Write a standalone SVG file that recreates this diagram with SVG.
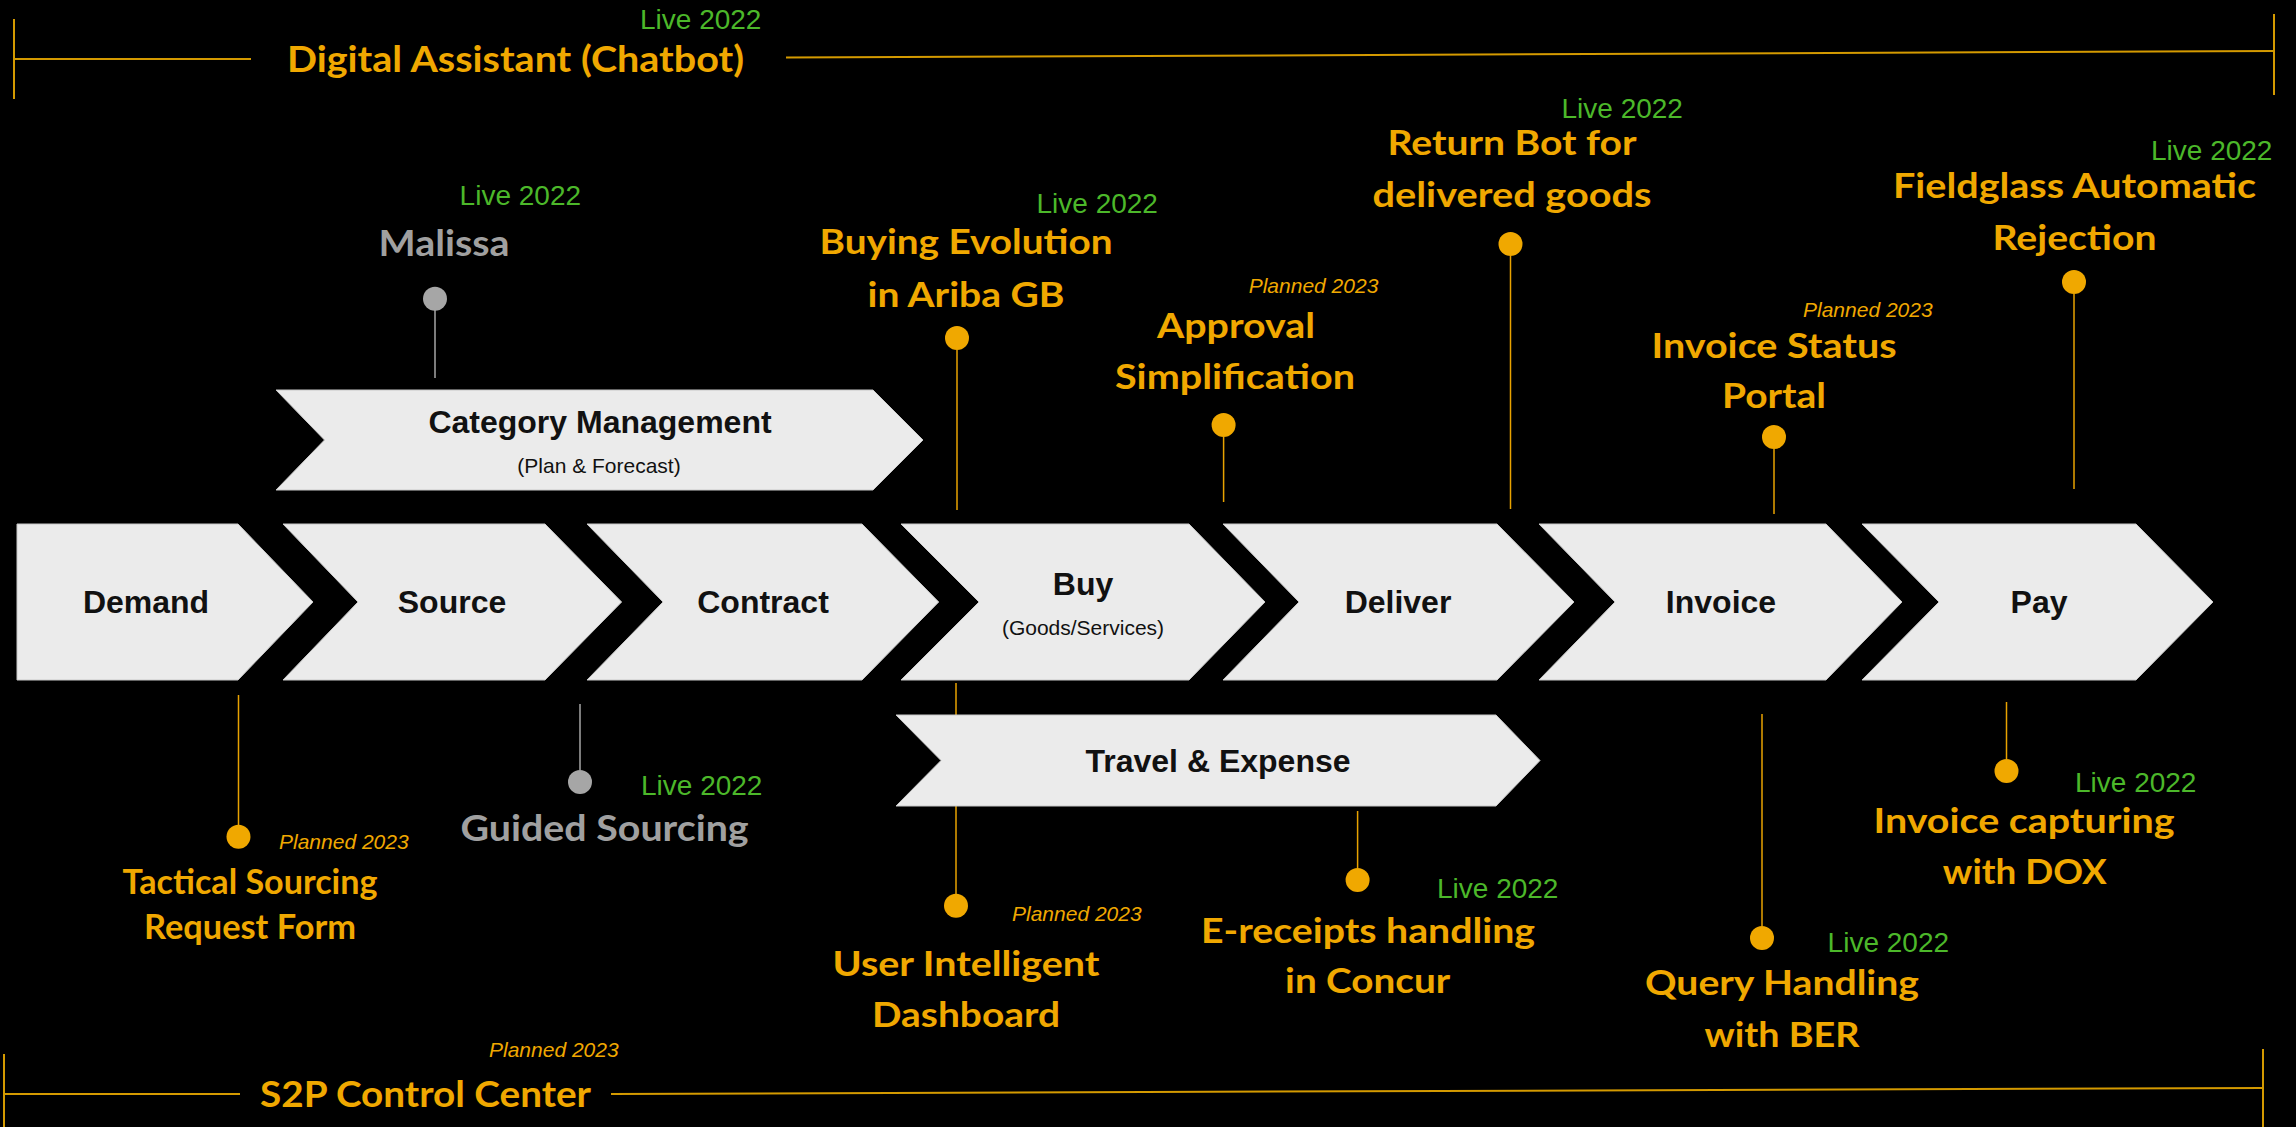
<svg xmlns="http://www.w3.org/2000/svg" width="2296" height="1127" viewBox="0 0 2296 1127">
<style>
.chev{fill:#EBEBEB;stroke:#C8C8C8;stroke-width:1}
.lbl{font-family:"Liberation Sans",Arial,sans-serif;font-weight:bold;font-size:32px;fill:#111;text-anchor:middle}
.sub{font-family:"Liberation Sans",Arial,sans-serif;font-size:21px;fill:#111;text-anchor:middle}
.ms{font-family:Lato,"Open Sans",sans-serif;font-weight:bold;font-size:35px;fill:#F0A800;text-anchor:middle}
.gr{font-family:Lato,"Open Sans",sans-serif;font-weight:bold;font-size:37px;fill:#A0A0A0;text-anchor:middle}
.hd{font-family:Lato,"Open Sans",sans-serif;font-weight:bold;font-size:36px;fill:#F0A800}
.live{font-family:"Liberation Sans",Arial,sans-serif;font-size:28px;fill:#4CB82A}
.plan{font-family:"Liberation Sans",Arial,sans-serif;font-size:21px;font-style:italic;fill:#F0A800}
.ln{stroke:#E8A200;stroke-width:1.5;fill:none}
.lg{stroke:#A6A6A6;stroke-width:1.5;fill:none}
.br{stroke:#D49A00;stroke-width:2;fill:none}
.dot{fill:#F0A800}
.dg{fill:#A6A6A6}
</style>
<rect x="0" y="0" width="2296" height="1127" fill="#000"/>

<g id="connectors">
<line class="lg" x1="435" y1="310" x2="435" y2="378"/>
<line class="ln" x1="957" y1="350" x2="957" y2="510"/>
<line class="ln" x1="1223.6" y1="437" x2="1223.6" y2="502"/>
<line class="ln" x1="1510.5" y1="256" x2="1510.5" y2="509"/>
<line class="ln" x1="1774" y1="449" x2="1774" y2="514"/>
<line class="ln" x1="2074" y1="294" x2="2074" y2="489"/>
<line class="ln" x1="238.5" y1="695" x2="238.5" y2="825"/>
<line class="lg" x1="580" y1="704" x2="580" y2="770"/>
<line class="ln" x1="956" y1="683" x2="956" y2="894"/>
<line class="ln" x1="1357.6" y1="811" x2="1357.6" y2="868"/>
<line class="ln" x1="1762" y1="714" x2="1762" y2="926"/>
<line class="ln" x1="2006.5" y1="702" x2="2006.5" y2="759"/>
</g>

<g id="bracket-top">
<line class="br" x1="14" y1="19" x2="14" y2="99"/>
<line class="br" x1="14" y1="59" x2="251" y2="59"/>
<line class="br" x1="786" y1="57.5" x2="2274" y2="51"/>
<line class="br" x1="2274" y1="14" x2="2274" y2="95"/>
<text class="hd" x="287" y="72" textLength="457" lengthAdjust="spacingAndGlyphs">Digital Assistant (Chatbot)</text>
<text class="live" x="640" y="29">Live 2022</text>
</g>

<g id="bracket-bottom">
<line class="br" x1="4" y1="1054" x2="4" y2="1127"/>
<line class="br" x1="4" y1="1094" x2="240" y2="1094"/>
<line class="br" x1="611" y1="1094" x2="2263" y2="1088"/>
<line class="br" x1="2263" y1="1049" x2="2263" y2="1127"/>
<text class="hd" x="260" y="1107" textLength="331" lengthAdjust="spacingAndGlyphs">S2P Control Center</text>
<text class="plan" x="489" y="1056.7">Planned 2023</text>
</g>

<g id="category-management">
<polygon class="chev" points="276,390 873,390 923,440 873,490 276,490 324.5,440"/>
<text class="lbl" x="600" y="432.7">Category Management</text>
<text class="sub" x="599" y="473">(Plan &amp; Forecast)</text>
</g>

<g id="demand">
<polygon class="chev" points="17,524 238,524 313,602 238,680 17,680"/>
<text class="lbl" x="146" y="613">Demand</text>
</g>
<g id="source">
<polygon class="chev" points="283,524 545,524 621.6,602 545,680 283,680 358,602"/>
<text class="lbl" x="452" y="613">Source</text>
</g>
<g id="contract">
<polygon class="chev" points="587,524 862,524 938.7,602 862,680 587,680 663,602"/>
<text class="lbl" x="763" y="613">Contract</text>
</g>
<g id="buy">
<polygon class="chev" points="901,524 1189,524 1265,602 1189,680 901,680 979,602"/>
<text class="lbl" x="1083" y="595">Buy</text>
<text class="sub" x="1083" y="635">(Goods/Services)</text>
</g>
<g id="deliver">
<polygon class="chev" points="1223,524 1497,524 1574,602 1497,680 1223,680 1299,602"/>
<text class="lbl" x="1398" y="613">Deliver</text>
</g>
<g id="invoice">
<polygon class="chev" points="1539,524 1826,524 1902,602 1826,680 1539,680 1615,602"/>
<text class="lbl" x="1721" y="613">Invoice</text>
</g>
<g id="pay">
<polygon class="chev" points="1862,524 2136,524 2213,602 2136,680 1862,680 1939,602"/>
<text class="lbl" x="2039" y="613">Pay</text>
</g>

<g id="travel-expense">
<polygon class="chev" points="896,715 1496,715 1540,760.5 1496,806 896,806 941,760.5"/>
<text class="lbl" x="1218" y="772">Travel &amp; Expense</text>
</g>

<g id="malissa">
<circle class="dg" cx="435" cy="298.7" r="12"/>
<text class="gr" x="444" y="256" textLength="131" lengthAdjust="spacingAndGlyphs">Malissa</text>
<text class="live" x="459.6" y="205">Live 2022</text>
</g>

<g id="buying-evolution">
<circle class="dot" cx="957" cy="338" r="12"/>
<text class="ms" x="966" y="254" textLength="293" lengthAdjust="spacingAndGlyphs">Buying Evolution</text>
<text class="ms" x="966" y="306.7" textLength="197" lengthAdjust="spacingAndGlyphs">in Ariba GB</text>
<text class="live" x="1036.5" y="213">Live 2022</text>
</g>

<g id="approval-simplification">
<circle class="dot" cx="1223.6" cy="425" r="12"/>
<text class="ms" x="1236" y="338" textLength="158" lengthAdjust="spacingAndGlyphs">Approval</text>
<text class="ms" x="1235" y="389" textLength="240" lengthAdjust="spacingAndGlyphs">Simplification</text>
<text class="plan" x="1248.7" y="293">Planned 2023</text>
</g>

<g id="return-bot">
<circle class="dot" cx="1510.5" cy="244" r="12"/>
<text class="ms" x="1512" y="155" textLength="249" lengthAdjust="spacingAndGlyphs">Return Bot for</text>
<text class="ms" x="1512" y="206.7" textLength="279" lengthAdjust="spacingAndGlyphs">delivered goods</text>
<text class="live" x="1561.5" y="117.7">Live 2022</text>
</g>

<g id="invoice-status-portal">
<circle class="dot" cx="1774" cy="437" r="12"/>
<text class="ms" x="1774" y="357.7" textLength="245" lengthAdjust="spacingAndGlyphs">Invoice Status</text>
<text class="ms" x="1774" y="408" textLength="104" lengthAdjust="spacingAndGlyphs">Portal</text>
<text class="plan" x="1803" y="316.7">Planned 2023</text>
</g>

<g id="fieldglass">
<circle class="dot" cx="2074" cy="282" r="12"/>
<text class="ms" x="2074.5" y="198" textLength="363" lengthAdjust="spacingAndGlyphs">Fieldglass Automatic</text>
<text class="ms" x="2074.5" y="250" textLength="164" lengthAdjust="spacingAndGlyphs">Rejection</text>
<text class="live" x="2151" y="160">Live 2022</text>
</g>

<g id="tactical-sourcing">
<circle class="dot" cx="238.5" cy="836.7" r="12"/>
<text class="ms" x="250" y="894" textLength="255" lengthAdjust="spacingAndGlyphs">Tactical Sourcing</text>
<text class="ms" x="250" y="939.3" textLength="212" lengthAdjust="spacingAndGlyphs">Request Form</text>
<text class="plan" x="279" y="849">Planned 2023</text>
</g>

<g id="guided-sourcing">
<circle class="dg" cx="580" cy="782" r="12"/>
<text class="gr" x="604.6" y="841" textLength="288" lengthAdjust="spacingAndGlyphs">Guided Sourcing</text>
<text class="live" x="641" y="795">Live 2022</text>
</g>

<g id="user-dashboard">
<circle class="dot" cx="956" cy="905.7" r="12"/>
<text class="ms" x="966" y="976" textLength="267" lengthAdjust="spacingAndGlyphs">User Intelligent</text>
<text class="ms" x="966" y="1026.7" textLength="188" lengthAdjust="spacingAndGlyphs">Dashboard</text>
<text class="plan" x="1012" y="920.7">Planned 2023</text>
</g>

<g id="e-receipts">
<circle class="dot" cx="1357.6" cy="880" r="12"/>
<text class="ms" x="1368" y="943" textLength="334" lengthAdjust="spacingAndGlyphs">E-receipts handling</text>
<text class="ms" x="1367.6" y="993" textLength="165" lengthAdjust="spacingAndGlyphs">in Concur</text>
<text class="live" x="1437" y="898">Live 2022</text>
</g>

<g id="query-handling">
<circle class="dot" cx="1762" cy="938" r="12"/>
<text class="ms" x="1782" y="995" textLength="274" lengthAdjust="spacingAndGlyphs">Query Handling</text>
<text class="ms" x="1782" y="1046.7" textLength="155" lengthAdjust="spacingAndGlyphs">with BER</text>
<text class="live" x="1827.6" y="951.7">Live 2022</text>
</g>

<g id="invoice-capturing">
<circle class="dot" cx="2006.5" cy="771" r="12"/>
<text class="ms" x="2024" y="833" textLength="301" lengthAdjust="spacingAndGlyphs">Invoice capturing</text>
<text class="ms" x="2024.8" y="884" textLength="164" lengthAdjust="spacingAndGlyphs">with DOX</text>
<text class="live" x="2075" y="791.7">Live 2022</text>
</g>
</svg>
